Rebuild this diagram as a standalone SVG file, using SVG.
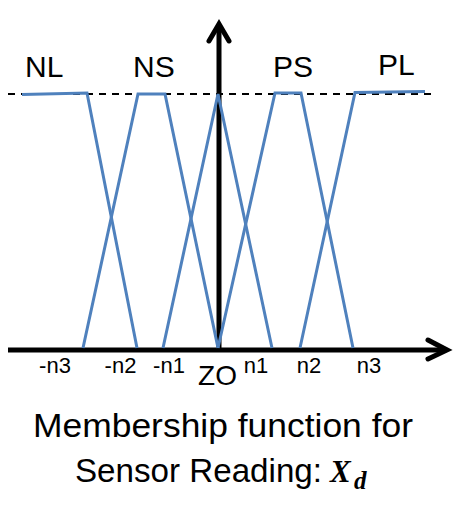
<svg xmlns="http://www.w3.org/2000/svg" width="472" height="515" viewBox="0 0 472 515">
  <style>
    .mf { fill: none; stroke: #4F81BD; stroke-width: 3; stroke-linejoin: miter; }
    .axis { fill: none; stroke: #000; stroke-width: 5; }
    .head { fill: none; stroke: #000; stroke-width: 5; stroke-linecap: round; stroke-linejoin: miter; }
    .lbl { font-family: "Liberation Sans", Arial, sans-serif; font-size: 30px; fill: #000; }
    .tick { font-family: "Liberation Sans", Arial, sans-serif; font-size: 22px; fill: #000; text-anchor: middle; }
    .title { font-family: "Liberation Sans", Arial, sans-serif; font-size: 33px; fill: #000; }
    .math { font-family: "Liberation Serif", "Times New Roman", serif; font-style: italic; font-weight: bold; fill: #000; }
  </style>
  <rect width="472" height="515" fill="#fff"/>

  <g id="connectors">
    <line x1="8" y1="94" x2="435" y2="94" stroke="#000" stroke-width="2" stroke-dasharray="7,6"/>
    <line class="axis" x1="8" y1="350" x2="445" y2="350"/>
    <polyline class="head" points="428,340 447,350 428,359"/>
    <line class="axis" x1="219" y1="350" x2="219" y2="26"/>
    <polyline class="head" points="209,41 219,24 229,41"/>
  </g>

  <g id="NL">
    <polyline class="mf" points="22,94.5 87,93 137,348"/>
    <text class="lbl" x="25" y="77">NL</text>
  </g>
  <g id="NS">
    <polyline class="mf" points="83,348 138,94 165,94 218,348"/>
    <text class="lbl" x="133" y="77">NS</text>
  </g>
  <g id="ZO">
    <polyline class="mf" points="163,348 218,94 272,348"/>
    <text class="lbl" x="217.5" y="385" text-anchor="middle" style="font-size:28px">ZO</text>
  </g>
  <g id="PS">
    <polyline class="mf" points="218,348 275,93 301,93 353,348"/>
    <text class="lbl" x="273" y="77">PS</text>
  </g>
  <g id="PL">
    <polyline class="mf" points="300,348 355,92.5 425,91.5"/>
    <text class="lbl" x="378" y="75">PL</text>
  </g>

  <g id="ticks">
    <text class="tick" x="55" y="373">-n3</text>
    <text class="tick" x="120.5" y="373">-n2</text>
    <text class="tick" x="169" y="373">-n1</text>
    <text class="tick" x="256" y="373">n1</text>
    <text class="tick" x="309" y="373">n2</text>
    <text class="tick" x="369" y="373">n3</text>
  </g>

  <g id="title">
    <text class="title" x="33" y="437" textLength="380" lengthAdjust="spacingAndGlyphs">Membership function for</text>
    <text class="title" x="75" y="482" textLength="247" lengthAdjust="spacingAndGlyphs">Sensor Reading:</text>
    <text class="math" x="330" y="482" font-size="31">X</text>
    <text class="math" x="354" y="489" font-size="25">d</text>
  </g>
</svg>
